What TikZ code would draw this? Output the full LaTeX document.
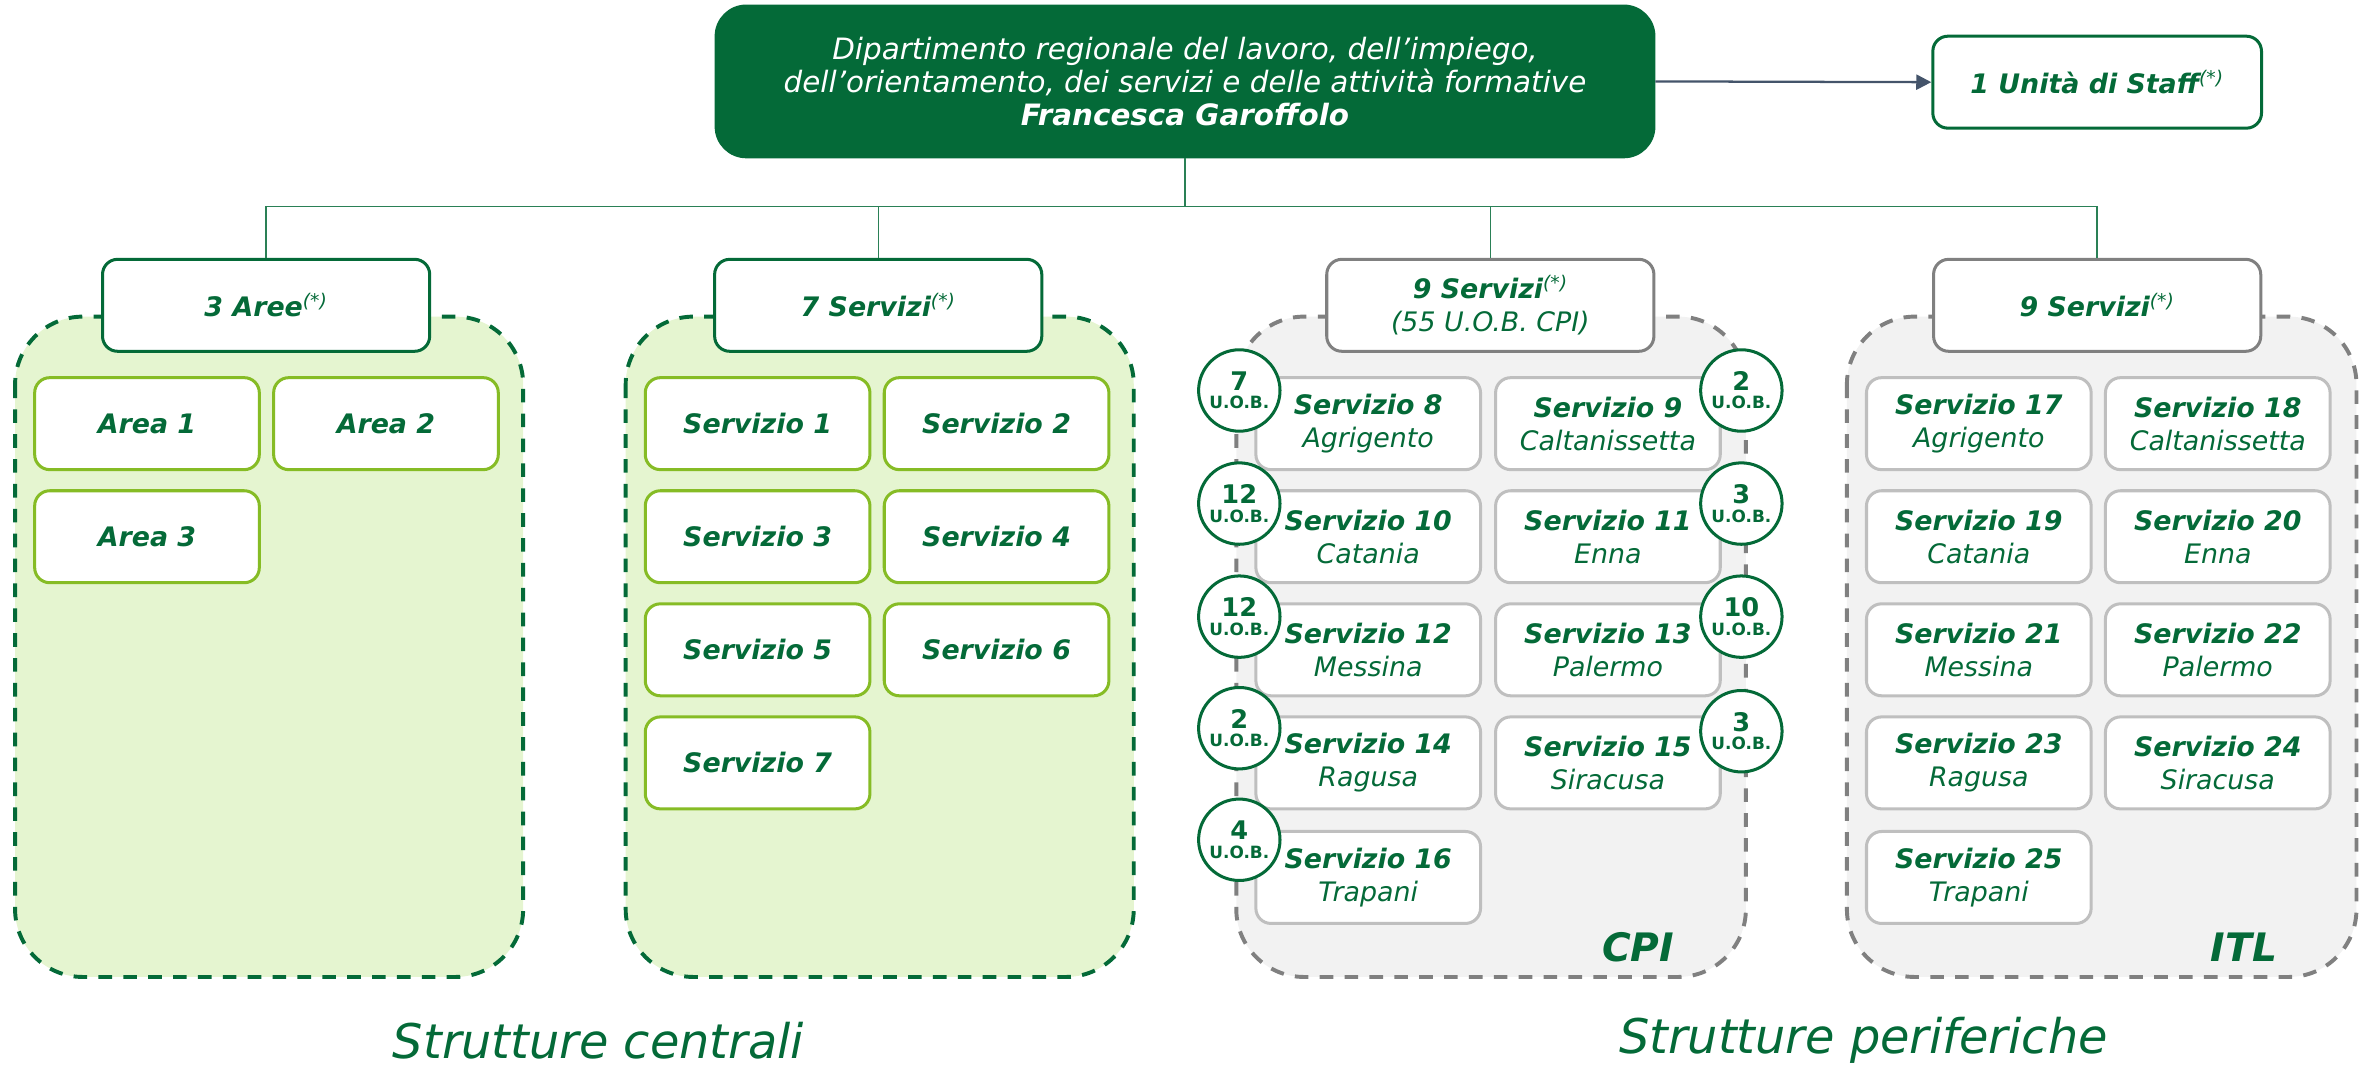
\documentclass[tikz,border=0pt]{standalone}
\usepackage{fontspec}
\setmainfont{DejaVu Sans}
\usetikzlibrary{arrows.meta}
\definecolor{dkgreen}{RGB}{4,106,56}
\definecolor{ltgreen}{RGB}{134,188,37}
\definecolor{greenbg}{RGB}{229,245,208}
\definecolor{greybg}{RGB}{242,242,242}
\definecolor{greyline}{RGB}{128,128,128}
\definecolor{greybox}{RGB}{191,191,191}
\definecolor{slate}{RGB}{68,84,106}
\newcommand*{\bwd}{149pt}
\newcommand*{\bht}{61pt}
\newcommand*{\hwd}{217pt}
\newcommand*{\nota}{\textsuperscript{\mdseries(*)}}
\newcommand*{\uobtxt}[1]{{\fontsize{17}{15}\selectfont #1}\\{\fontsize{11.2}{12}\selectfont U.O.B.}}

\begin{document}
\begin{tikzpicture}[x=1pt, y=-1pt,
    box/.style   = {rectangle, rounded corners=10pt, fill=white, line width=2pt,
                    minimum width=\bwd, minimum height=\bht, align=center, text=dkgreen,
                    font=\fontsize{17.8}{22}\selectfont\itshape},
    gbox/.style  = {box, draw=ltgreen},
    cbox/.style  = {box, draw=greybox},
    head/.style  = {box, minimum width=\hwd, draw=dkgreen},
    ghead/.style = {box, minimum width=\hwd, draw=greyline},
    uob/.style   = {circle, draw=dkgreen, line width=2pt, fill=white, minimum size=54pt,
                    inner sep=0pt, align=center, text=dkgreen, font=\bfseries},
    panel/.style = {rounded corners=45pt, line width=2.6pt, dash pattern=on 9pt off 7.5pt}]
    \useasboundingbox (0,0) rectangle (1568,710);

    % containers
    \draw [panel, fill=greenbg, draw=dkgreen]   (10,210)   rectangle (347,648);
    \draw [panel, fill=greenbg, draw=dkgreen]   (415,210)  rectangle (752,648);
    \draw [panel, fill=greybg,  draw=greyline]  (820,210)  rectangle (1158,648);
    \draw [panel, fill=greybg,  draw=greyline]  (1225,210) rectangle (1563,648);

    % top
    \node [box, fill=dkgreen, draw=dkgreen, text=white, rounded corners=20pt,
           minimum width=622pt, minimum height=100pt,
           font=\fontsize{19.5}{22}\selectfont\itshape] (dip) at (786,54)
          {Dipartimento regionale del lavoro, dell’impiego,\\dell’orientamento, dei servizi e delle attività formative\\\textbf{Francesca Garoffolo}};
    \node [head, draw=dkgreen, minimum width=218pt] (staff) at (1391,54.5) {\textbf{1 Unità di Staff}\nota};
    \draw [slate, line width=1.5pt, -{Triangle[length=10pt,width=10pt]}] (dip.east) -- (staff.west);

    \node [head]  (aree)  at (176.5,202.5) {\textbf{3 Aree}\nota};
    \node [head]  (serv)  at (582.5,202.5) {\textbf{7 Servizi}\nota};
    \node [ghead] (cpi)   at (988.5,202.5) {\textbf{9 Servizi}\nota\\(55 U.O.B. CPI)};
    \node [ghead] (itl)   at (1391,202.5)  {\textbf{9 Servizi}\nota};

    \coordinate (bus) at (786,137);
    \draw [dkgreen!85, line width=0.9pt] (dip.south) -- (bus);
    \draw [dkgreen!85, line width=0.9pt] (bus) -| (aree.north);
    \draw [dkgreen!85, line width=0.9pt] (bus) -| (serv.north);
    \draw [dkgreen!85, line width=0.9pt] (bus) -| (cpi.north);
    \draw [dkgreen!85, line width=0.9pt] (bus) -| (itl.north);

    % aree
    \node [gbox] (a1) at (97.5,281) {\textbf{Area 1}};
    \node [gbox] (a2) at (256,281)  {\textbf{Area 2}};
    \node [gbox] (a3) at (97.5,356) {\textbf{Area 3}};

    % servizi centrali
    \node [gbox] (s1) at (502.5,281) {\textbf{Servizio 1}};
    \node [gbox] (s2) at (661,281)   {\textbf{Servizio 2}};
    \node [gbox] (s3) at (502.5,356) {\textbf{Servizio 3}};
    \node [gbox] (s4) at (661,356)   {\textbf{Servizio 4}};
    \node [gbox] (s5) at (502.5,431) {\textbf{Servizio 5}};
    \node [gbox] (s6) at (661,431)   {\textbf{Servizio 6}};
    \node [gbox] (s7) at (502.5,506) {\textbf{Servizio 7}};

    % CPI
    \node [cbox] (s8)  at (907.5,281)  {\textbf{Servizio 8}\\Agrigento};
    \node [cbox] (s9)  at (1066.5,281) {\textbf{Servizio 9}\\Caltanissetta};
    \node [cbox] (s10) at (907.5,356)  {\textbf{Servizio 10}\\Catania};
    \node [cbox] (s11) at (1066.5,356) {\textbf{Servizio 11}\\Enna};
    \node [cbox] (s12) at (907.5,431)  {\textbf{Servizio 12}\\Messina};
    \node [cbox] (s13) at (1066.5,431) {\textbf{Servizio 13}\\Palermo};
    \node [cbox] (s14) at (907.5,506)  {\textbf{Servizio 14}\\Ragusa};
    \node [cbox] (s15) at (1066.5,506) {\textbf{Servizio 15}\\Siracusa};
    \node [cbox] (s16) at (907.5,582)  {\textbf{Servizio 16}\\Trapani};

    \node [uob] (u8)  at (822,259)  {\uobtxt{7}};
    \node [uob] (u9)  at (1155,259) {\uobtxt{2}};
    \node [uob] (u10) at (822,334)  {\uobtxt{12}};
    \node [uob] (u11) at (1155,334) {\uobtxt{3}};
    \node [uob] (u12) at (822,409)  {\uobtxt{12}};
    \node [uob] (u13) at (1155,409) {\uobtxt{10}};
    \node [uob] (u14) at (822,483)  {\uobtxt{2}};
    \node [uob] (u15) at (1155,485) {\uobtxt{3}};
    \node [uob] (u16) at (822,557)  {\uobtxt{4}};

    % ITL
    \node [cbox] (s17) at (1312.5,281) {\textbf{Servizio 17}\\Agrigento};
    \node [cbox] (s18) at (1471,281)   {\textbf{Servizio 18}\\Caltanissetta};
    \node [cbox] (s19) at (1312.5,356) {\textbf{Servizio 19}\\Catania};
    \node [cbox] (s20) at (1471,356)   {\textbf{Servizio 20}\\Enna};
    \node [cbox] (s21) at (1312.5,431) {\textbf{Servizio 21}\\Messina};
    \node [cbox] (s22) at (1471,431)   {\textbf{Servizio 22}\\Palermo};
    \node [cbox] (s23) at (1312.5,506) {\textbf{Servizio 23}\\Ragusa};
    \node [cbox] (s24) at (1471,506)   {\textbf{Servizio 24}\\Siracusa};
    \node [cbox] (s25) at (1312.5,582) {\textbf{Servizio 25}\\Trapani};

    \node [anchor=east, text=dkgreen, font=\fontsize{26}{26}\selectfont\bfseries\itshape] (lcpi) at (1114,628) {CPI};
    \node [anchor=east, text=dkgreen, font=\fontsize{26}{26}\selectfont\bfseries\itshape] (litl) at (1514,628) {ITL};

    \node [text=dkgreen, font=\fontsize{31.7}{34}\selectfont\itshape] (centr) at (397,690)  {Strutture centrali};
    \node [text=dkgreen, font=\fontsize{31.7}{34}\selectfont\itshape] (perif) at (1236,690) {Strutture periferiche};
\end{tikzpicture}
\end{document}
